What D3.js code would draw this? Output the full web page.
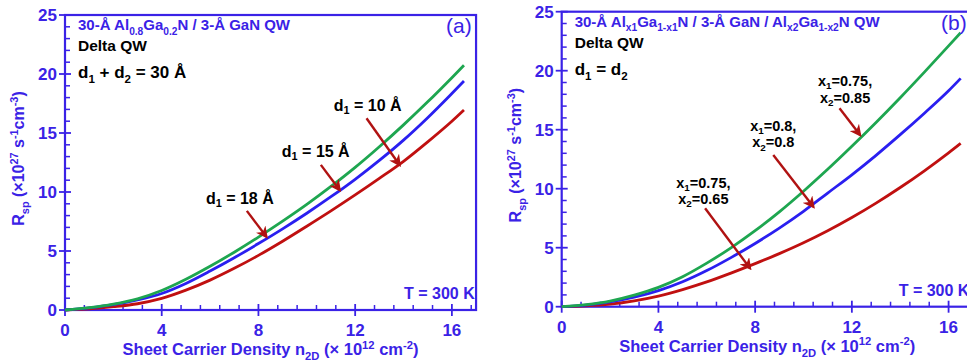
<!DOCTYPE html>
<html>
<head>
<meta charset="utf-8">
<script src="https://cdn.jsdelivr.net/npm/d3@7"></script>
<style>
  html, body { margin: 0; padding: 0; background: #fff; }
  svg { display: block; font-family: "Liberation Sans", Arial, sans-serif; }
</style>
</head>
<body>
<svg id="chart" width="967" height="364"></svg>
<script>
// sheet carrier density (x 10^12 cm^-2)
const density = [0, 1, 2, 3, 4, 5, 6, 7, 8, 9, 10, 11, 12, 13, 14, 15, 16, 16.5];

// panel (a): d1 = 10, 15, 18 Å
const greenA = [0, 0.2, 0.5, 0.95, 1.65, 2.6, 3.7, 4.9, 6.18, 7.53, 8.95, 10.47, 12.09, 13.84, 15.69, 17.64, 19.69, 20.74];
const blueA  = [0, 0.18, 0.45, 0.85, 1.4, 2.25, 3.3, 4.43, 5.63, 6.88, 8.2, 9.6, 11.08, 12.68, 14.4, 16.3, 18.35, 19.4];
const redA   = [0, 0.1, 0.28, 0.53, 0.98, 1.68, 2.53, 3.53, 4.63, 5.83, 7.1, 8.4, 9.75, 11.15, 12.6, 14.25, 16.0, 16.95];

// panel (b): x1/x2 compositions
const greenB = [0, 0.18, 0.48, 0.98, 1.64, 2.54, 3.69, 4.99, 6.44, 8.04, 9.79, 11.64, 13.59, 15.61, 17.71, 19.88, 22.1, 23.22];
const blueB  = [0, 0.14, 0.4, 0.8, 1.36, 2.11, 3.06, 4.16, 5.36, 6.66, 8.08, 9.63, 11.18, 12.83, 14.58, 16.4, 18.3, 19.35];
const redB   = [0, 0.07, 0.22, 0.5, 0.9, 1.45, 2.1, 2.85, 3.65, 4.5, 5.42, 6.44, 7.56, 8.78, 10.1, 11.52, 13.04, 13.84];

const xTicks = [0, 4, 8, 12, 16];
const yTicks = [0, 5, 10, 15, 20, 25];

const AXIS = '#3a22e6';
const GREEN = '#1ea650';
const BLUE = '#2a1ff0';
const RED = '#c01010';
const ARROW = '#b01212';

const svg = d3.select('#chart');

svg.append('defs').append('marker')
  .attr('id', 'head')
  .attr('viewBox', '0 0 10 10')
  .attr('refX', 8).attr('refY', 5)
  .attr('markerWidth', 5).attr('markerHeight', 5)
  .attr('orient', 'auto')
  .append('path')
  .attr('d', 'M0,0 L10,5 L0,10 L3,5 Z')
  .attr('fill', ARROW);

// text with sub/superscripts: segs = [[str, 'sub'|'sup'|'']]
function rich(g, x, y, segs, size, opts) {
  const t = g.append('text')
    .attr('x', x).attr('y', y)
    .attr('font-size', size)
    .attr('font-weight', opts.weight || 'bold')
    .attr('fill', opts.fill || '#000')
    .attr('text-anchor', opts.anchor || 'start');
  if (opts.rotate) t.attr('transform', `rotate(-90,${x},${y})`);
  const subShift = opts.subShift || 0.3;
  let shift = 0;
  segs.forEach(([s, kind]) => {
    let target = 0, fs = size;
    if (kind === 'sub') { target = size * subShift; fs = size * 0.68; }
    if (kind === 'sup') { target = -size * 0.38; fs = size * 0.68; }
    t.append('tspan')
      .attr('dy', target - shift)
      .attr('font-size', fs)
      .text(s);
    shift = target;
  });
  return t;
}

function drawPanel(cfg) {
  const g = svg.append('g');
  const x = d3.scaleLinear().domain([0, 17]).range([cfg.left, cfg.left + 17 * 24.18]);
  const y = d3.scaleLinear().domain([0, 25]).range([cfg.bottom, cfg.top]);

  // frame
  g.append('rect')
    .attr('x', x(0)).attr('y', y(25))
    .attr('width', x(17) - x(0)).attr('height', y(0) - y(25))
    .attr('fill', 'none').attr('stroke', AXIS).attr('stroke-width', 2.2);

  // minor ticks (inward)
  const xMinor = d3.range(0.8, 16.9, 0.8).filter(v => Math.abs(v / 4 - Math.round(v / 4)) > 1e-6);
  g.selectAll('line.xm').data(xMinor).enter().append('line')
    .attr('x1', d => x(d)).attr('x2', d => x(d))
    .attr('y1', y(0)).attr('y2', y(0) - 5)
    .attr('stroke', AXIS).attr('stroke-width', 1.5);
  const yMinor = d3.range(1, 25).filter(v => v % 5 !== 0);
  g.selectAll('line.ym').data(yMinor).enter().append('line')
    .attr('x1', x(0)).attr('x2', x(0) + 5)
    .attr('y1', d => y(d)).attr('y2', d => y(d))
    .attr('stroke', AXIS).attr('stroke-width', 1.5);

  // major ticks (crossing)
  g.selectAll('line.xM').data(xTicks).enter().append('line')
    .attr('x1', d => x(d)).attr('x2', d => x(d))
    .attr('y1', y(0) - 6).attr('y2', y(0) + 6)
    .attr('stroke', AXIS).attr('stroke-width', 1.8);
  g.selectAll('line.yM').data(yTicks).enter().append('line')
    .attr('x1', x(0) - 6).attr('x2', x(0) + 6)
    .attr('y1', d => y(d)).attr('y2', d => y(d))
    .attr('stroke', AXIS).attr('stroke-width', 1.8);

  g.selectAll('text.xt').data(xTicks).enter().append('text')
    .attr('x', d => x(d)).attr('y', y(0) + 26)
    .attr('text-anchor', 'middle').attr('font-size', 17).attr('font-weight', 'bold')
    .attr('fill', AXIS).text(d => d);
  g.selectAll('text.yt').data(yTicks).enter().append('text')
    .attr('x', x(0) - 8).attr('y', d => y(d) + 6)
    .attr('text-anchor', 'end').attr('font-size', 17).attr('font-weight', 'bold')
    .attr('fill', AXIS).text(d => d);

  // axis titles
  rich(g, (x(0) + x(17)) / 2, y(0) + 45,
    [['Sheet Carrier Density n', ''], ['2D', 'sub'], [' (\u00d7 10', ''], ['12', 'sup'], [' cm', ''], ['-2', 'sup'], [')', '']],
    16.5, { fill: AXIS, anchor: 'middle' });
  rich(g, cfg.left - 41, (y(0) + y(25)) / 2 - 4,
    [['R', ''], ['sp', 'sub'], [' (\u00d710', ''], ['27', 'sup'], [' s', ''], ['-1', 'sup'], ['cm', ''], ['-3', 'sup'], [')', '']],
    16, { fill: AXIS, anchor: 'middle', rotate: true });

  // curves
  const line = d3.line().curve(d3.curveMonotoneX).x(d => x(d[0])).y(d => y(d[1]));
  cfg.series.forEach(s => {
    g.append('path')
      .datum(density.map((n, i) => [n, s.values[i]]))
      .attr('d', line)
      .attr('fill', 'none').attr('stroke', s.color).attr('stroke-width', 2.8);
  });

  // texts
  rich(g, x(0) + 13, y(25) + 15, cfg.title, 15, { fill: AXIS });
  g.append('text').attr('x', cfg.tagX).attr('y', y(25) + 18)
    .attr('font-size', 21).attr('fill', AXIS).text(cfg.tag);
  rich(g, x(0) + 13, y(25) + 36, [['Delta QW', '']], 15.5, {});
  rich(g, x(0) + 13, y(25) + 63, cfg.cond, 17, {});
  g.append('text').attr('x', x(0) + cfg.tX).attr('y', y(0) - 11)
    .attr('font-size', 16).attr('font-weight', 'bold').attr('fill', AXIS)
    .text('T = 300 K');

  // annotations with arrows (data coordinates)
  cfg.notes.forEach(a => {
    a.lines.forEach((segs, k) => {
      rich(g, x(a.tx), y(a.ty) + k * 16.5, segs, a.size, { anchor: 'middle', subShift: 0.22 });
    });
    g.append('line')
      .attr('x1', x(a.from[0])).attr('y1', y(a.from[1]))
      .attr('x2', x(a.to[0])).attr('y2', y(a.to[1]))
      .attr('stroke', ARROW).attr('stroke-width', 2.4)
      .attr('marker-end', 'url(#head)');
  });
}

drawPanel({
  left: 65, top: 15, bottom: 310, tagX: 446, tag: '(a)', tX: 339,
  series: [
    { values: redA, color: RED },
    { values: blueA, color: BLUE },
    { values: greenA, color: GREEN }
  ],
  title: [['30-\u00c5  Al', ''], ['0.8', 'sub'], ['Ga', ''], ['0.2', 'sub'], ['N / 3-\u00c5 GaN QW', '']],
  cond: [['d', ''], ['1', 'sub'], [' + d', ''], ['2', 'sub'], [' = 30 \u00c5', '']],
  notes: [
    { lines: [[['d', ''], ['1', 'sub'], [' = 18 \u00c5', '']]], tx: 7.23, ty: 9.0, size: 16, from: [7.52, 8.4], to: [8.33, 6.2] },
    { lines: [[['d', ''], ['1', 'sub'], [' = 15 \u00c5', '']]], tx: 10.37, ty: 13.0, size: 16, from: [10.58, 12.3], to: [11.36, 10.17] },
    { lines: [[['d', ''], ['1', 'sub'], [' = 10 \u00c5', '']]], tx: 12.52, ty: 16.9, size: 16, from: [12.47, 16.25], to: [13.84, 12.29] }
  ]
});

drawPanel({
  left: 561.7, top: 11.7, bottom: 306.7, tagX: 941, tag: '(b)', tX: 337,
  series: [
    { values: redB, color: RED },
    { values: blueB, color: BLUE },
    { values: greenB, color: GREEN }
  ],
  title: [['30-\u00c5  Al', ''], ['x1', 'sub'], ['Ga', ''], ['1-x1', 'sub'], ['N / 3-\u00c5 GaN / Al', ''], ['x2', 'sub'], ['Ga', ''], ['1-x2', 'sub'], ['N  QW', '']],
  cond: [['d', ''], ['1', 'sub'], [' = d', ''], ['2', 'sub']],
  notes: [
    { lines: [[['x', ''], ['1', 'sub'], ['=0.75,', '']], [['x', ''], ['2', 'sub'], ['=0.85', '']]], tx: 11.72, ty: 18.7, size: 14.5, from: [11.49, 16.81], to: [12.34, 14.55] },
    { lines: [[['x', ''], ['1', 'sub'], ['=0.8,', '']], [['x', ''], ['2', 'sub'], ['=0.8', '']]], tx: 8.75, ty: 14.9, size: 14.5, from: [8.75, 12.86], to: [10.41, 8.47] },
    { lines: [[['x', ''], ['1', 'sub'], ['=0.75,', '']], [['x', ''], ['2', 'sub'], ['=0.65', '']]], tx: 5.86, ty: 10.1, size: 14.5, from: [5.93, 8.34], to: [7.79, 3.25] }
  ]
});
</script>
</body>
</html>
